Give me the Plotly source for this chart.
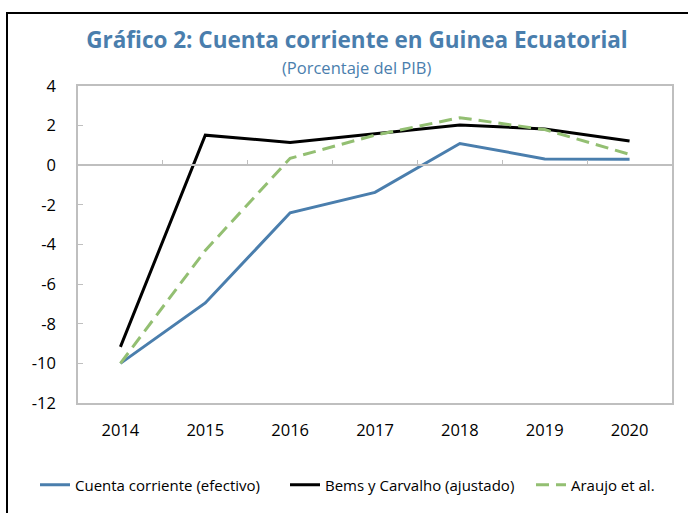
import plotly.graph_objects as go

years = ["2014", "2015", "2016", "2017", "2018", "2019", "2020"]
efectivo = [-10.0, -6.95, -2.4, -1.37, 1.1, 0.32, 0.3]
bems = [-9.17, 1.52, 1.15, 1.6, 2.03, 1.83, 1.22]
araujo = [-10.0, -4.3, 0.35, 1.52, 2.4, 1.8, 0.55]
names = ["Cuenta corriente (efectivo)", "Bems y Carvalho (ajustado)", "Araujo et al."]
ytickvals = [4, 2, 0, -2, -4, -6, -8, -10, -12]
yticktext = ["4", "2", "0", "-2", "-4", "-6", "-8", "-10", "-12"]

BLUE = "#4A7EAD"
GREEN = "#93BF72"
FONT = "Open Sans"
W, H = 688, 513

fig = go.Figure()
fig.add_trace(go.Scatter(x=years, y=efectivo, name=names[0], mode="lines",
                         line=dict(color=BLUE, width=3), legend="legend"))
fig.add_trace(go.Scatter(x=years, y=bems, name=names[1], mode="lines",
                         line=dict(color="black", width=3), legend="legend2"))
fig.add_trace(go.Scatter(x=years, y=araujo, name=names[2], mode="lines",
                         line=dict(color=GREEN, width=3, dash="13px,7px"), legend="legend3"))
# invisible trace on second x-axis for zero-line tick marks
fig.add_trace(go.Scatter(x=years, y=[None]*len(years), xaxis="x2", showlegend=False,
                         hoverinfo="skip"))

def leg(xpx):
    return dict(orientation="h", xref="container", yref="container",
                x=xpx / W, xanchor="left", y=1 - 485 / H, yanchor="middle",
                font=dict(size=15), bgcolor="rgba(0,0,0,0)")

fig.update_layout(
    width=W, height=H,
    margin=dict(l=78, r=16, t=86, b=110),
    paper_bgcolor="white", plot_bgcolor="white",
    font=dict(family=FONT, size=16, color="black"),
    title=dict(text="<b>Gráfico 2: Cuenta corriente en Guinea Ecuatorial</b>",
               x=(357 - 78) / 594, xref="paper", xanchor="center",
               y=1 - 40 / H, yanchor="middle", yref="container",
               font=dict(family=FONT, size=22.5, color=BLUE)),
    xaxis=dict(type="category", categoryarray=years, range=[-0.5, 6.5],
               showline=True, linecolor="#BFBFBF", linewidth=1.5, mirror=True,
               ticks="", ticklabelstandoff=11, showgrid=False, zeroline=False,
               tickfont=dict(size=16.5)),
    xaxis2=dict(type="category", categoryarray=years, range=[-0.5, 6.5],
                overlaying="x", anchor="free", position=0.75, side="bottom",
                showline=True, linecolor="#BFBFBF", linewidth=1.5,
                ticks="inside", tickson="boundaries", ticklen=5, tickcolor="#BFBFBF",
                showticklabels=False, showgrid=False, zeroline=False),
    yaxis=dict(range=[-12, 4], tickvals=ytickvals, ticktext=yticktext,
               showline=True, linecolor="#BFBFBF", linewidth=1.5, mirror=True,
               ticks="inside", ticklen=5, tickcolor="#BFBFBF", ticklabelstandoff=17,
               showgrid=False, zeroline=False, tickfont=dict(size=16.5)),
    legend=leg(35),
    legend2=leg(285),
    legend3=leg(531),
    showlegend=True,
)

fig.add_annotation(text="(Porcentaje del PIB)", xref="paper", yref="paper",
                   x=(357 - 78) / 594, y=(403 - 68) / 317, showarrow=False,
                   xanchor="center", yanchor="middle",
                   font=dict(family=FONT, size=16.5, color=BLUE))

# outer frame
fig.add_shape(type="rect", xref="paper", yref="paper",
              x0=(7 - 78) / 594, x1=(700 - 78) / 594,
              y0=(403 - 530) / 317, y1=(403 - 13) / 317,
              line=dict(color="black", width=2), fillcolor="rgba(0,0,0,0)", layer="below")

fig.write_html("out.html", config={"displayModeBar": False},
               post_script="document.body.style.margin='0';document.body.style.padding='0';")
